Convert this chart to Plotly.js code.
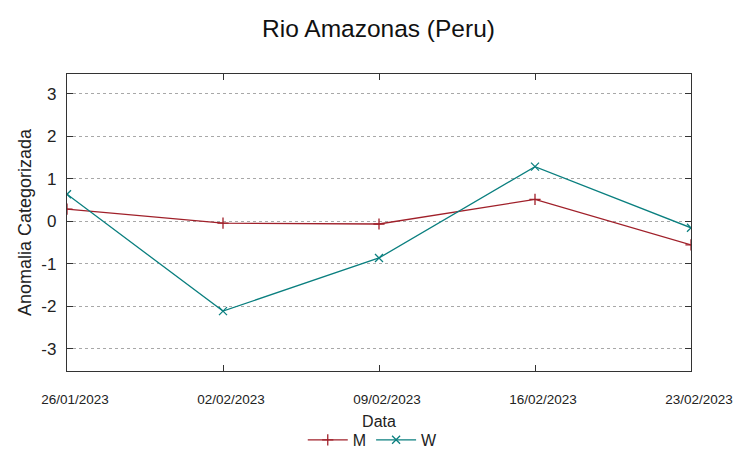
<!DOCTYPE html>
<html>
<head>
<meta charset="utf-8">
<script src="https://cdn.plot.ly/plotly-3.0.1.min.js"></script>
<style>html,body{margin:0;padding:0;background:#fff}#chart{width:753px;height:459px}</style>
</head>
<body>
<div id="chart"></div>
<script>
var dates = ["2023-01-26", "2023-02-02", "2023-02-09", "2023-02-16", "2023-02-23"];
var tickLabels = ["26/01/2023", "02/02/2023", "09/02/2023", "16/02/2023", "23/02/2023"];
var yTickVals = [-3, -2, -1, 0, 1, 2, 3];
var yTickLabels = ["-3", "-2", "-1", "0", "1", "2", "3"];
var seriesM = [0.29, -0.04, -0.06, 0.52, -0.55];
var seriesW = [0.64, -2.11, -0.86, 1.29, -0.15];

var font = "Liberation Sans, Arial, sans-serif";
var traces = [
  {x: dates, y: seriesM, name: "M", mode: "lines+markers", type: "scatter",
   line: {color: "#a0202a", width: 1.3},
   marker: {symbol: "cross-thin", size: 8, line: {color: "#a0202a", width: 1.3}, color: "#a0202a"}},
  {x: dates, y: seriesW, name: "W", mode: "lines+markers", type: "scatter",
   line: {color: "#0a7f7f", width: 1.3},
   marker: {symbol: "x-thin", size: 8, line: {color: "#0a7f7f", width: 1.3}, color: "#0a7f7f"}}
];
var layout = {
  width: 753, height: 459,
  margin: {l: 67, r: 62, t: 74, b: 88, autoexpand: false},
  paper_bgcolor: "#fff", plot_bgcolor: "#fff",
  font: {family: font, color: "#222"},
  title: {text: "Rio Amazonas (Peru)", font: {size: 24.5, family: font, color: "#111"},
    x: 0.5027, xanchor: "center", y: 0.938, yanchor: "middle", automargin: false},
  xaxis: {
    type: "date", range: [dates[0], dates[dates.length - 1]],
    tickvals: dates, ticktext: tickLabels,
    ticks: "inside", ticklen: 6, tickcolor: "#333", tickwidth: 1,
    showgrid: false, zeroline: false,
    showline: true, linecolor: "#333", linewidth: 1.2, mirror: "ticks",
    tickfont: {size: 13.5, family: font, color: "#222"},
    ticklabelstandoff: 16, ticklabelshift: 8,
    automargin: false,
    title: {text: "Data", font: {size: 16, family: font, color: "#222"}, standoff: 9}
  },
  yaxis: {
    range: [-3.52, 3.47],
    tickvals: yTickVals, ticktext: yTickLabels,
    ticks: "inside", ticklen: 6, tickcolor: "#333", tickwidth: 1,
    showgrid: true, gridcolor: "#a8a8a8", griddash: "dot", gridwidth: 1,
    zeroline: false,
    showline: true, linecolor: "#333", linewidth: 1.2, mirror: "ticks",
    tickfont: {size: 17, family: font, color: "#222"},
    ticklabelstandoff: 6,
    automargin: false,
    title: {text: "Anomalia Categorizada", font: {size: 18, family: font, color: "#222"}, standoff: 5}
  },
  showlegend: true,
  legend: {orientation: "h", x: 0.49, xanchor: "center", y: -0.232, yanchor: "middle",
    font: {size: 16, family: font, color: "#222"}, bgcolor: "rgba(0,0,0,0)", itemwidth: 40}
};
Plotly.newPlot("chart", traces, layout, {displayModeBar: false, staticPlot: true});
</script>
</body>
</html>
